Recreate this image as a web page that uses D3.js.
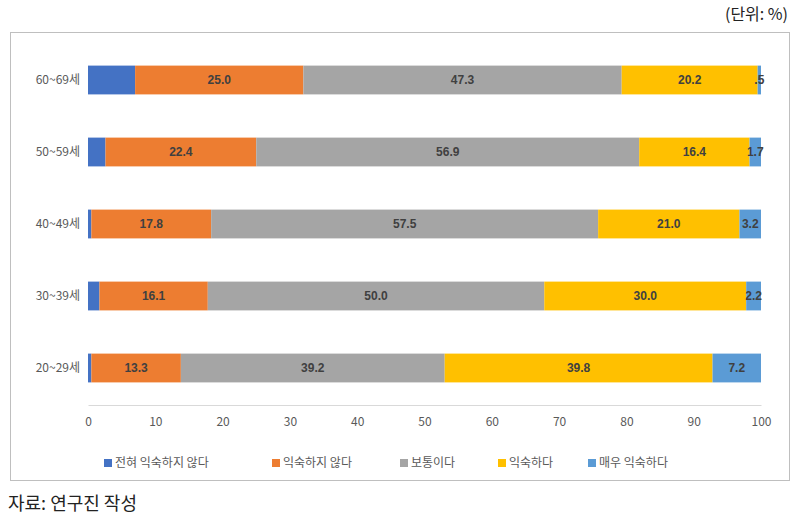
<!DOCTYPE html>
<html><head><meta charset="utf-8">
<script src="https://cdn.jsdelivr.net/npm/d3@7"></script>
<style>body{margin:0;background:#fff;font-family:"Noto Sans CJK KR",sans-serif}</style>
</head><body><svg id="c" width="802" height="523"></svg>
<script>
// data
const ageGroups = ["60~69세", "50~59세", "40~49세", "30~39세", "20~29세"];
const seriesNames = ["전혀 익숙하지 않다", "익숙하지 않다", "보통이다", "익숙하다", "매우 익숙하다"];
const notAtAll = [7.0, 2.6, 0.5, 1.7, 0.5];
const notFamiliar = [25.0, 22.4, 17.8, 16.1, 13.3];
const neutral = [47.3, 56.9, 57.5, 50.0, 39.2];
const familiar = [20.2, 16.4, 21.0, 30.0, 39.8];
const veryFamiliar = [0.5, 1.7, 3.2, 2.2, 7.2];
const valueLabels = [
  ["", "25.0", "47.3", "20.2", ".5"],
  ["", "22.4", "56.9", "16.4", "1.7"],
  ["", "17.8", "57.5", "21.0", "3.2"],
  ["", "16.1", "50.0", "30.0", "2.2"],
  ["", "13.3", "39.2", "39.8", "7.2"]
];
const xTicks = [0, 10, 20, 30, 40, 50, 60, 70, 80, 90, 100];
const colors = ["#4472C4", "#ED7D31", "#A5A5A5", "#FFC000", "#5B9BD5"];

const svg = d3.select("#c");
const series = [notAtAll, notFamiliar, neutral, familiar, veryFamiliar];

// frame and titles
svg.append("rect").attr("x", 10.5).attr("y", 32.5).attr("width", 779).attr("height", 448)
  .attr("fill", "none").attr("stroke", "#bfbfbf");
svg.append("text").attr("x", 788).attr("y", 20).attr("text-anchor", "end")
  .attr("font-size", 16).attr("fill", "#222").text("(단위: %)");
svg.append("text").attr("x", 8).attr("y", 510)
  .attr("font-size", 18).attr("fill", "#222").text("자료: 연구진 작성");

const x = d3.scaleLinear().domain([0, 100]).range([88, 761]);
const y = d3.scaleBand().domain(ageGroups).range([44, 404]).paddingInner(0.6).paddingOuter(0.3);

// axis
const ax = svg.append("g").attr("transform", "translate(0,405)")
  .call(d3.axisBottom(x).tickValues(xTicks).tickSize(0).tickPadding(12));
ax.select(".domain").attr("stroke", "#d9d9d9");
ax.selectAll("text").attr("font-size", 12).attr("fill", "#595959").attr("font-family", "Noto Sans CJK KR");

svg.append("g").selectAll("text").data(ageGroups).join("text")
  .attr("x", 80).attr("y", d => y(d) + y.bandwidth() / 2 + 4).attr("text-anchor", "end")
  .attr("font-size", 12).attr("fill", "#595959").text(d => d);

ageGroups.forEach((g, i) => {
  let acc = 0;
  series.forEach((s, k) => {
    const v = s[i];
    svg.append("rect").attr("x", x(acc)).attr("y", y(g))
      .attr("width", x(acc + v) - x(acc)).attr("height", y.bandwidth()).attr("fill", colors[k]);
    const lbl = valueLabels[i][k];
    if (lbl) {
      svg.append("text").attr("x", x(acc + v / 2)).attr("y", y(g) + y.bandwidth() / 2 + 4)
        .attr("text-anchor", "middle").attr("font-size", 12).attr("font-weight", "bold")
        .attr("fill", "#404040").attr("font-family", "Liberation Sans").text(lbl);
    }
    acc += v;
  });
});

// legend
const legX = [104, 272, 400, 498, 588];
const leg = svg.append("g").selectAll("g").data(seriesNames).join("g")
  .attr("transform", (d, i) => `translate(${legX[i]},463)`);
leg.append("rect").attr("x", 0).attr("y", -4).attr("width", 8).attr("height", 8).attr("fill", (d, i) => colors[i]);
leg.append("text").attr("x", 11).attr("y", 4).attr("font-size", 12).attr("fill", "#595959").text(d => d);
</script></body></html>
